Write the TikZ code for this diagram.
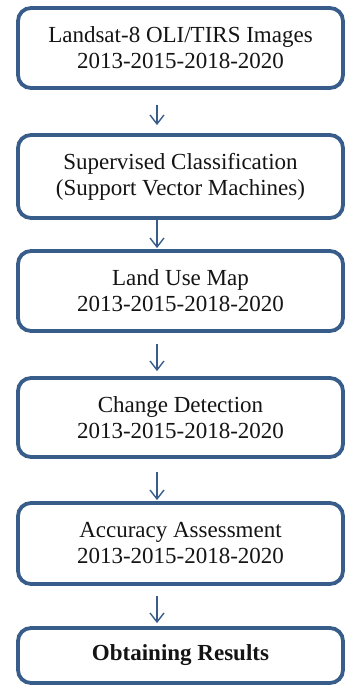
\documentclass[tikz,border=0pt]{standalone}
\usepackage{fontspec}
\setmainfont{Liberation Serif}
\usetikzlibrary{arrows.meta}
\definecolor{boxblue}{RGB}{56,93,138}
\definecolor{txt}{RGB}{20,20,20}
\tikzset{
  stepbox/.style={draw=boxblue, line width=3.8pt, rounded corners=13pt, fill=white,
    minimum width=325pt, align=center, text=txt, inner sep=0pt,
    font=\fontsize{23}{26}\selectfont},
  arr/.style={draw=boxblue, line width=1.4pt, -{Straight Barb[length=9pt,width=14pt,line width=1.4pt]}}
}
\begin{document}
\begin{tikzpicture}[x=1pt,y=-1pt]
\useasboundingbox (0,0) rectangle (345,685);
\node[stepbox, minimum height=80pt] (b1) at (180.5,48) {Landsat-8 OLI/TIRS Images\\2013-2015-2018-2020};
\node[stepbox, minimum height=83pt] (b2) at (180.5,176.5) {Supervised Classification\\(Support Vector Machines)};
\node[stepbox, minimum height=80pt] (b3) at (180.5,291) {Land Use Map\\2013-2015-2018-2020};
\node[stepbox, minimum height=79pt] (b4) at (180.5,417.5) {Change Detection\\2013-2015-2018-2020};
\node[stepbox, minimum height=81pt] (b5) at (180.5,543.5) {Accuracy Assessment\\2013-2015-2018-2020};
\node[stepbox, minimum height=55pt] (b6) at (180.5,655.5) {\bfseries Obtaining Results};
\coordinate (ax) at (157,0);
\draw[arr, shorten <=15pt, shorten >=8pt] (b1.south -| ax) -- (b2.north -| ax);
\draw[arr, shorten <=0pt, shorten >=1pt] (b2.south -| ax) -- (b3.north -| ax);
\draw[arr, shorten <=11pt, shorten >=5pt] (b3.south -| ax) -- (b4.north -| ax);
\draw[arr, shorten <=13pt, shorten >=1pt] (b4.south -| ax) -- (b5.north -| ax);
\draw[arr, shorten <=10pt, shorten >=3pt] (b5.south -| ax) -- (b6.north -| ax);
\end{tikzpicture}
\end{document}
